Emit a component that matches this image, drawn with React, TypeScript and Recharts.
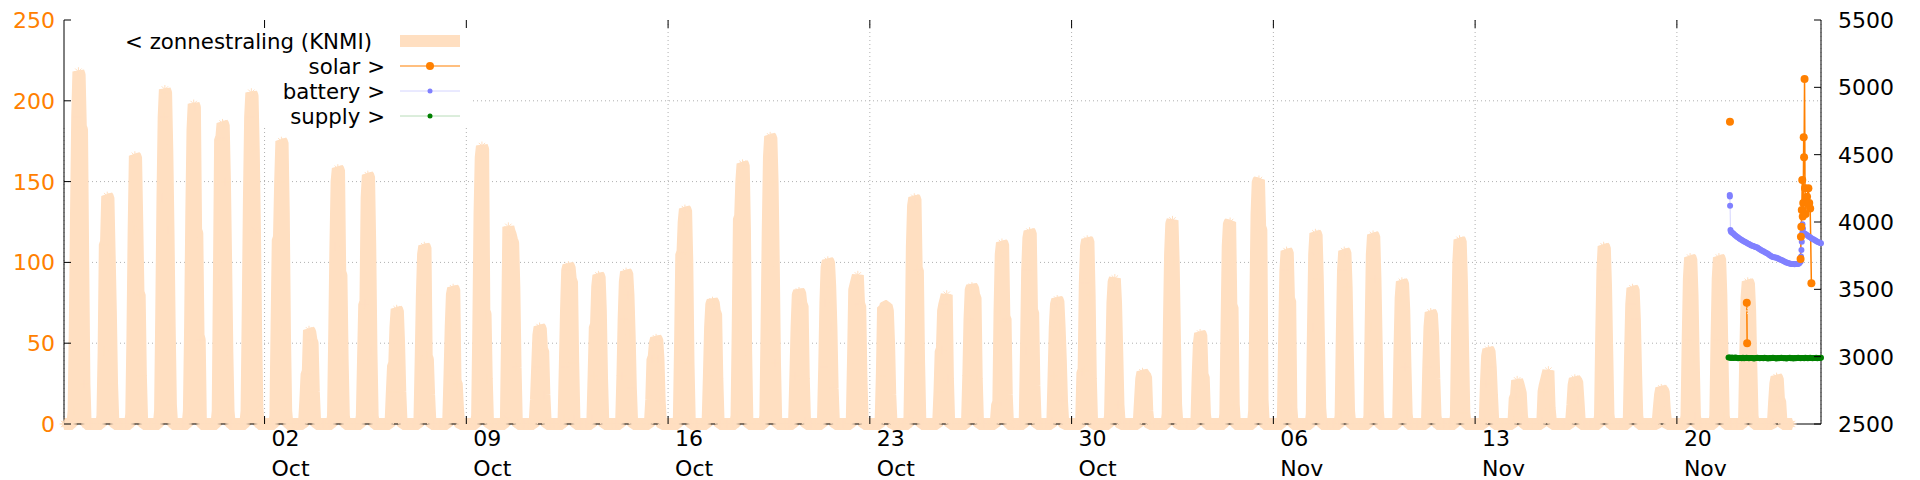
import React from 'react';
import { ComposedChart, Area, Line, XAxis, YAxis, CartesianGrid } from 'recharts';

const W = 1920;
const H = 480;
const PLOT_TOP = 20;
const PLOT_BOTTOM = 424;
const PLOT_LEFT = 64;
const PLOT_RIGHT = 1821;
// the key box is opaque: it hides the grid behind it
const KEY_RIGHT = 473;
const KEY_BOTTOM = 128;

const FONT = '"DejaVu Sans", Verdana, sans-serif';
const ORANGE = '#ff8000';
const PEACH = '#ffdfc1';
const BLUE = '#8080ff';
const GREEN = '#008000';
const GRID = '#b0b0b0';

// x axis: hours since 25 Sep 00:00
const majorTicks = [168, 336, 504, 672, 840, 1008, 1176, 1344];
const majorDay = ['02', '09', '16', '23', '30', '06', '13', '20'];
const majorMonth = ['Oct', 'Oct', 'Oct', 'Oct', 'Oct', 'Nov', 'Nov', 'Nov'];
const minorTicks = [42, 84, 126, 210, 252, 294, 378, 420, 462, 546, 588, 630, 714, 756, 798,
  882, 924, 966, 1050, 1092, 1134, 1218, 1260, 1302, 1386, 1428];
const leftTicks = [0, 50, 100, 150, 200, 250];
const rightTicks = [2500, 3000, 3500, 4000, 4500, 5000, 5500];

// KNMI hourly radiation, one row per day (25 Sep .. 23 Nov), 11 hourly values
// rows before 29 Oct start at 09:00, from 29 Oct on at 08:00
const dstEndDay = 34;
const radiation: number[][] = [
  [8, 60, 130, 190, 218, 216, 184, 182, 100, 25, 0],
  [5, 45, 111, 112, 141, 140, 105, 70, 25, 3, 0],
  [6, 55, 120, 166, 165, 125, 81, 80, 30, 3, 0],
  [8, 70, 140, 190, 207, 205, 170, 120, 60, 12, 0],
  [8, 60, 130, 182, 198, 196, 120, 118, 55, 52, 0],
  [8, 90, 176, 177, 186, 185, 150, 100, 45, 8, 0],
  [8, 70, 140, 190, 205, 203, 170, 120, 55, 10, 0],
  [5, 60, 114, 115, 150, 175, 174, 130, 55, 8, 0],
  [2, 15, 31, 32, 58, 57, 52, 50, 20, 3, 0],
  [5, 55, 110, 150, 158, 157, 94, 92, 40, 5, 0],
  [5, 40, 74, 75, 140, 154, 153, 110, 45, 5, 0],
  [2, 20, 36, 37, 60, 71, 70, 50, 20, 2, 0],
  [3, 40, 80, 105, 110, 109, 42, 40, 18, 2, 0],
  [3, 30, 60, 80, 84, 83, 26, 25, 10, 1, 0],
  [5, 60, 130, 165, 172, 170, 70, 68, 28, 2, 0],
  [4, 60, 122, 119, 117, 114, 112, 84, 35, 2, 0],
  [2, 15, 35, 55, 60, 59, 46, 45, 18, 2, 0],
  [3, 35, 70, 95, 98, 97, 89, 88, 38, 3, 0],
  [3, 30, 60, 61, 85, 92, 91, 70, 28, 2, 0],
  [3, 30, 65, 88, 94, 93, 80, 55, 22, 2, 0],
  [2, 15, 40, 41, 50, 53, 52, 40, 14, 1, 0],
  [4, 50, 105, 106, 125, 133, 132, 100, 38, 3, 0],
  [3, 30, 60, 74, 76, 75, 69, 68, 28, 2, 0],
  [5, 60, 127, 128, 150, 161, 160, 120, 45, 3, 0],
  [5, 60, 120, 165, 178, 177, 150, 100, 38, 3, 0],
  [3, 30, 60, 80, 82, 81, 74, 73, 28, 2, 0],
  [3, 35, 75, 97, 101, 100, 85, 60, 22, 2, 0],
  [3, 40, 83, 86, 89, 92, 74, 73, 28, 2, 0],
  [2, 30, 72, 72, 73, 73, 70, 50, 18, 1, 0],
  [4, 50, 110, 135, 140, 139, 96, 95, 38, 3, 0],
  [2, 20, 45, 46, 70, 74, 77, 80, 28, 2, 0],
  [3, 30, 65, 83, 85, 84, 79, 78, 28, 2, 0],
  [2, 12, 13, 70, 105, 112, 111, 66, 65, 18, 0],
  [3, 45, 95, 115, 119, 118, 70, 69, 24, 2, 0],
  [2, 30, 60, 74, 77, 76, 60, 40, 14, 1, 0],
  [2, 32, 33, 87, 110, 114, 113, 80, 28, 2, 0],
  [5, 40, 75, 88, 90, 75, 45, 12, 1, 0, 0],
  [2, 15, 28, 32, 31, 30, 29, 8, 1, 0, 0],
  [6, 60, 105, 124, 126, 100, 55, 12, 1, 0, 0],
  [3, 30, 50, 56, 55, 30, 29, 6, 0, 0, 0],
  [6, 60, 110, 124, 125, 73, 72, 12, 0, 0, 0],
  [8, 75, 130, 150, 151, 122, 120, 15, 0, 0, 0],
  [5, 55, 95, 107, 106, 77, 76, 10, 0, 0, 0],
  [6, 60, 105, 118, 117, 90, 50, 10, 0, 0, 0],
  [5, 55, 95, 107, 106, 85, 45, 8, 0, 0, 0],
  [5, 60, 105, 117, 116, 90, 50, 8, 0, 0, 0],
  [4, 45, 78, 88, 87, 70, 35, 6, 0, 0, 0],
  [3, 35, 60, 69, 68, 55, 28, 5, 0, 0, 0],
  [5, 58, 100, 114, 113, 88, 45, 7, 0, 0, 0],
  [2, 25, 42, 46, 45, 35, 18, 3, 0, 0, 0],
  [2, 16, 17, 27, 25, 22, 19, 5, 0, 0, 0],
  [2, 20, 24, 27, 30, 33, 10, 2, 0, 0, 0],
  [2, 12, 24, 28, 27, 26, 15, 3, 0, 0, 0],
  [5, 55, 95, 110, 109, 85, 45, 6, 0, 0, 0],
  [4, 42, 74, 84, 83, 65, 32, 5, 0, 0, 0],
  [1, 10, 18, 22, 21, 20, 8, 1, 0, 0, 0],
  [5, 52, 90, 103, 102, 80, 40, 5, 0, 0, 0],
  [5, 52, 90, 103, 102, 80, 40, 5, 0, 0, 0],
  [4, 45, 78, 88, 87, 70, 35, 5, 0, 0, 0],
  [1, 14, 25, 29, 28, 15, 14, 2, 0, 0, 0],
];

// right axis series (null = gap in the log)
const solarHours = [1388.2, 1395, 1402.2, 1402.5, 1420, 1447.0, 1447.3, 1447.6, 1448.0, 1448.4, 1448.8,
  1449.2, 1449.6, 1449.9, 1450.3, 1450.7, 1451.2, 1452.4, 1453.5, 1454.2, 1455.0, 1456.0];
const solarValues = [4745, null, 3400, 3100, null, 3725, 3891, 3965, 4089, 4312, 4040,
  4141, 4629, 4480, 5062, 4250, 4060, 4188, 4250, 4141, 4100, 3545];

const batteryHours = [1388.0, 1388.1, 1388.3, 1388.6,
  1389, 1390, 1391, 1392, 1393, 1394, 1395, 1396, 1397, 1398, 1399, 1400, 1401, 1402, 1403, 1404,
  1405, 1406, 1407, 1408, 1409, 1410, 1411, 1412, 1413, 1414, 1415, 1416, 1417, 1418, 1419, 1420,
  1421, 1422, 1423, 1424, 1425, 1426, 1427, 1428, 1429, 1430, 1431, 1432, 1433, 1434, 1435, 1436,
  1437, 1438, 1439, 1440, 1441, 1442, 1443, 1444, 1445, 1446, 1447,
  1447.4, 1447.7, 1448.0, 1448.3, 1448.6,
  1449, 1450, 1451, 1452, 1453, 1454, 1455, 1456, 1457, 1458, 1459, 1460, 1461, 1462, 1463, 1464];
const batteryValues = [4200, 4190, 4120, 3940,
  3928, 3921, 3915, 3906, 3898, 3890, 3884, 3878, 3872, 3866, 3861, 3856, 3851, 3846, 3841, 3836,
  3831, 3826, 3823, 3820, 3816, 3813, 3810, 3804, 3798, 3792, 3787, 3782, 3777, 3772, 3768, 3762,
  3755, 3749, 3743, 3741, 3739, 3737, 3735, 3731, 3726, 3722, 3718, 3714, 3709, 3704, 3700, 3697,
  3694, 3691, 3689, 3688, 3688, 3687, 3688, 3688, 3689, 3693, 3705,
  3743, 3792, 3854, 3916, 3983,
  3950, 3916, 3910, 3905, 3898, 3890, 3886, 3880, 3874, 3870, 3865, 3859, 3854, 3849, 3845, 3842];

const supplyStart = 1387;
const supplyValues = [2993, 2994, 2991, 2993, 2990, 2992, 2993, 2990, 2988, 2991, 2990, 2989, 2992,
  2988, 2990, 2992, 2990, 2988, 2990, 2991, 2990, 2987, 2989, 2990, 2992, 2990, 2988, 2990, 2991,
  2988, 2992, 2990, 2988, 2987, 2990, 2989, 2990, 2992, 2990, 2988, 2987, 2990, 2989, 2990, 2992,
  2990, 2988, 2990, 2987, 2989, 2990, 2992, 2988, 2990, 2987, 2990, 2989, 2990, 2992, 2990, 2988,
  2990, 2991, 2988, 2992, 2990, 2988, 2990, 2992, 2990, 2988, 2990, 2991, 2992, 2988, 2990, 2991,
  2992];

// tables for the library
const radiationData: { t: number; v: number }[] = [];
for (let t = 1; t <= radiation.length * 24; t++) {
  const d = Math.floor(t / 24);
  const h = t % 24;
  const row = radiation[d];
  const first = d < dstEndDay ? 9 : 8;
  const i = h - first;
  radiationData.push({ t, v: row && i >= 0 && i < row.length ? row[i] : 0 });
}
const solarData = solarHours.map((t, i) => ({ t, v: solarValues[i] }));
const batteryData = batteryHours.map((t, i) => ({ t, v: batteryValues[i] }));
const supplyData = supplyValues.map((v, i) => ({ t: supplyStart + i, v }));

const textStyle = { fontFamily: FONT, fontSize: 22 };
const keyStyle = { fontFamily: FONT, fontSize: 21.3 };

const MajorTick = (props: any) => {
  const { x, payload } = props;
  const i = majorTicks.indexOf(payload.value);
  return (
    <g>
      <line x1={x} x2={x} y1={PLOT_BOTTOM} y2={PLOT_BOTTOM - 8} stroke="#000" />
      <line x1={x} x2={x} y1={PLOT_TOP} y2={PLOT_TOP + 8} stroke="#000" />
      <text x={x + 7} y={PLOT_BOTTOM + 22} fill="#000" style={textStyle}>{majorDay[i]}</text>
      <text x={x + 7} y={PLOT_BOTTOM + 52} fill="#000" style={textStyle}>{majorMonth[i]}</text>
    </g>
  );
};

const MinorTick = (props: any) => {
  const { x } = props;
  return (
    <g>
      <line x1={x} x2={x} y1={PLOT_BOTTOM} y2={PLOT_BOTTOM - 4} stroke="#000" />
      <line x1={x} x2={x} y1={PLOT_TOP} y2={PLOT_TOP + 4} stroke="#000" />
    </g>
  );
};

const LeftTick = (props: any) => {
  const { y, payload } = props;
  return (
    <g>
      <line x1={PLOT_LEFT} x2={PLOT_LEFT + 7} y1={y} y2={y} stroke="#000" />
      <text x={PLOT_LEFT - 9} y={y + 8} textAnchor="end" fill={ORANGE} style={textStyle}>{payload.value}</text>
    </g>
  );
};

const RightTick = (props: any) => {
  const { y, payload } = props;
  return (
    <g>
      <line x1={PLOT_RIGHT} x2={PLOT_RIGHT - 7} y1={y} y2={y} stroke="#000" />
      <text x={PLOT_RIGHT + 17} y={y + 8} textAnchor="start" fill="#000" style={textStyle}>{payload.value}</text>
    </g>
  );
};

// grid lines, skipping the border and the part under the key box
const GridH = (props: any) => {
  const { x1, x2, y1, index } = props;
  if (y1 <= PLOT_TOP + 1 || y1 >= PLOT_BOTTOM - 1) return <g key={`h${index}`} />;
  const start = y1 < KEY_BOTTOM ? Math.max(x1, KEY_RIGHT) : x1;
  return <line key={`h${index}`} x1={start} x2={x2} y1={y1} y2={y1} stroke={GRID} strokeDasharray="1 3" />;
};

const GridV = (props: any) => {
  const { x1, y1, y2, index } = props;
  const top = x1 < KEY_RIGHT ? Math.max(y1, KEY_BOTTOM) : y1;
  return <line key={`v${index}`} x1={x1} x2={x1} y1={top} y2={y2} stroke={GRID} strokeDasharray="1 3" />;
};

const StarDot = (props: any) => {
  const { cx, cy, index } = props;
  if (cx == null || cy == null) return <g key={`s${index}`} />;
  const r = 4.5;
  const d = r * 0.707;
  return (
    <g key={`s${index}`} stroke={PEACH} strokeWidth={1}>
      <line x1={cx - r} x2={cx + r} y1={cy} y2={cy} />
      <line x1={cx} x2={cx} y1={cy - r} y2={cy + r} />
      <line x1={cx - d} x2={cx + d} y1={cy - d} y2={cy + d} />
      <line x1={cx - d} x2={cx + d} y1={cy + d} y2={cy - d} />
    </g>
  );
};

const Key = () => (
  <svg width={W} height={H} style={{ position: 'absolute', left: 0, top: 0, pointerEvents: 'none' }}>
    <g style={keyStyle} fill="#000">
      <text x={372} y={49} textAnchor="end">{'< zonnestraling (KNMI)'}</text>
      <line x1={400} x2={460} y1={41} y2={41} stroke={PEACH} strokeWidth={12} />
      <text x={385} y={74} textAnchor="end">{'solar >'}</text>
      <line x1={400} x2={460} y1={66} y2={66} stroke={ORANGE} strokeWidth={1.2} />
      <circle cx={430} cy={66} r={4} fill={ORANGE} />
      <text x={385} y={99} textAnchor="end">{'battery >'}</text>
      <line x1={400} x2={460} y1={91} y2={91} stroke="#d4d4ff" strokeWidth={1} />
      <circle cx={430} cy={91} r={2.5} fill={BLUE} />
      <text x={385} y={124} textAnchor="end">{'supply >'}</text>
      <line x1={400} x2={460} y1={116} y2={116} stroke="#b8dcb8" strokeWidth={1} />
      <circle cx={430} cy={116} r={2.5} fill={GREEN} />
    </g>
  </svg>
);

export default function App() {
  return (
    <div style={{ position: 'absolute', left: 0, top: 0, width: W, height: H, background: '#fff' }}>
      <ComposedChart width={W} height={H} margin={{ top: PLOT_TOP, right: 0, bottom: 0, left: 0 }}>
        <CartesianGrid xAxisId="main" yAxisId="left" horizontal={GridH} vertical={GridV} />
        <XAxis xAxisId="main" dataKey="t" type="number" domain={[1, 1464]} ticks={majorTicks}
          height={H - PLOT_BOTTOM} tick={<MajorTick />} tickLine={false} axisLine={{ stroke: '#000' }} interval={0} />
        <XAxis xAxisId="minor" dataKey="t" type="number" domain={[1, 1464]} ticks={minorTicks}
          height={0} tick={<MinorTick />} tickLine={false} axisLine={false} interval={0} />
        <XAxis xAxisId="top" orientation="top" dataKey="t" type="number" domain={[1, 1464]} height={0}
          tick={false} tickLine={false} axisLine={{ stroke: '#000' }} />
        <YAxis yAxisId="left" domain={[0, 250]} ticks={leftTicks} width={PLOT_LEFT} tick={<LeftTick />}
          tickLine={false} axisLine={{ stroke: '#000' }} interval={0} />
        <YAxis yAxisId="right" orientation="right" domain={[2500, 5500]} ticks={rightTicks} width={W - PLOT_RIGHT}
          tick={<RightTick />} tickLine={false} axisLine={{ stroke: '#000' }} interval={0} />
        <Area xAxisId="main" yAxisId="left" data={radiationData} dataKey="v" type="linear"
          stroke={PEACH} strokeWidth={12} strokeLinejoin="bevel" fill={PEACH} fillOpacity={1}
          dot={StarDot} activeDot={false} isAnimationActive={false} />
        <Line xAxisId="main" yAxisId="right" data={supplyData} dataKey="v" type="linear" stroke="#b8dcb8"
          strokeWidth={1} dot={{ r: 3, fill: GREEN, stroke: 'none' }} activeDot={false} isAnimationActive={false} />
        <Line xAxisId="main" yAxisId="right" data={batteryData} dataKey="v" type="linear" stroke="#d4d4ff"
          strokeWidth={1} dot={{ r: 3, fill: BLUE, stroke: 'none' }} activeDot={false} isAnimationActive={false} />
        <Line xAxisId="main" yAxisId="right" data={solarData} dataKey="v" type="linear" stroke={ORANGE}
          strokeWidth={1.5} dot={{ r: 4, fill: ORANGE, stroke: 'none' }} activeDot={false} isAnimationActive={false} />
      </ComposedChart>
      <Key />
    </div>
  );
}
